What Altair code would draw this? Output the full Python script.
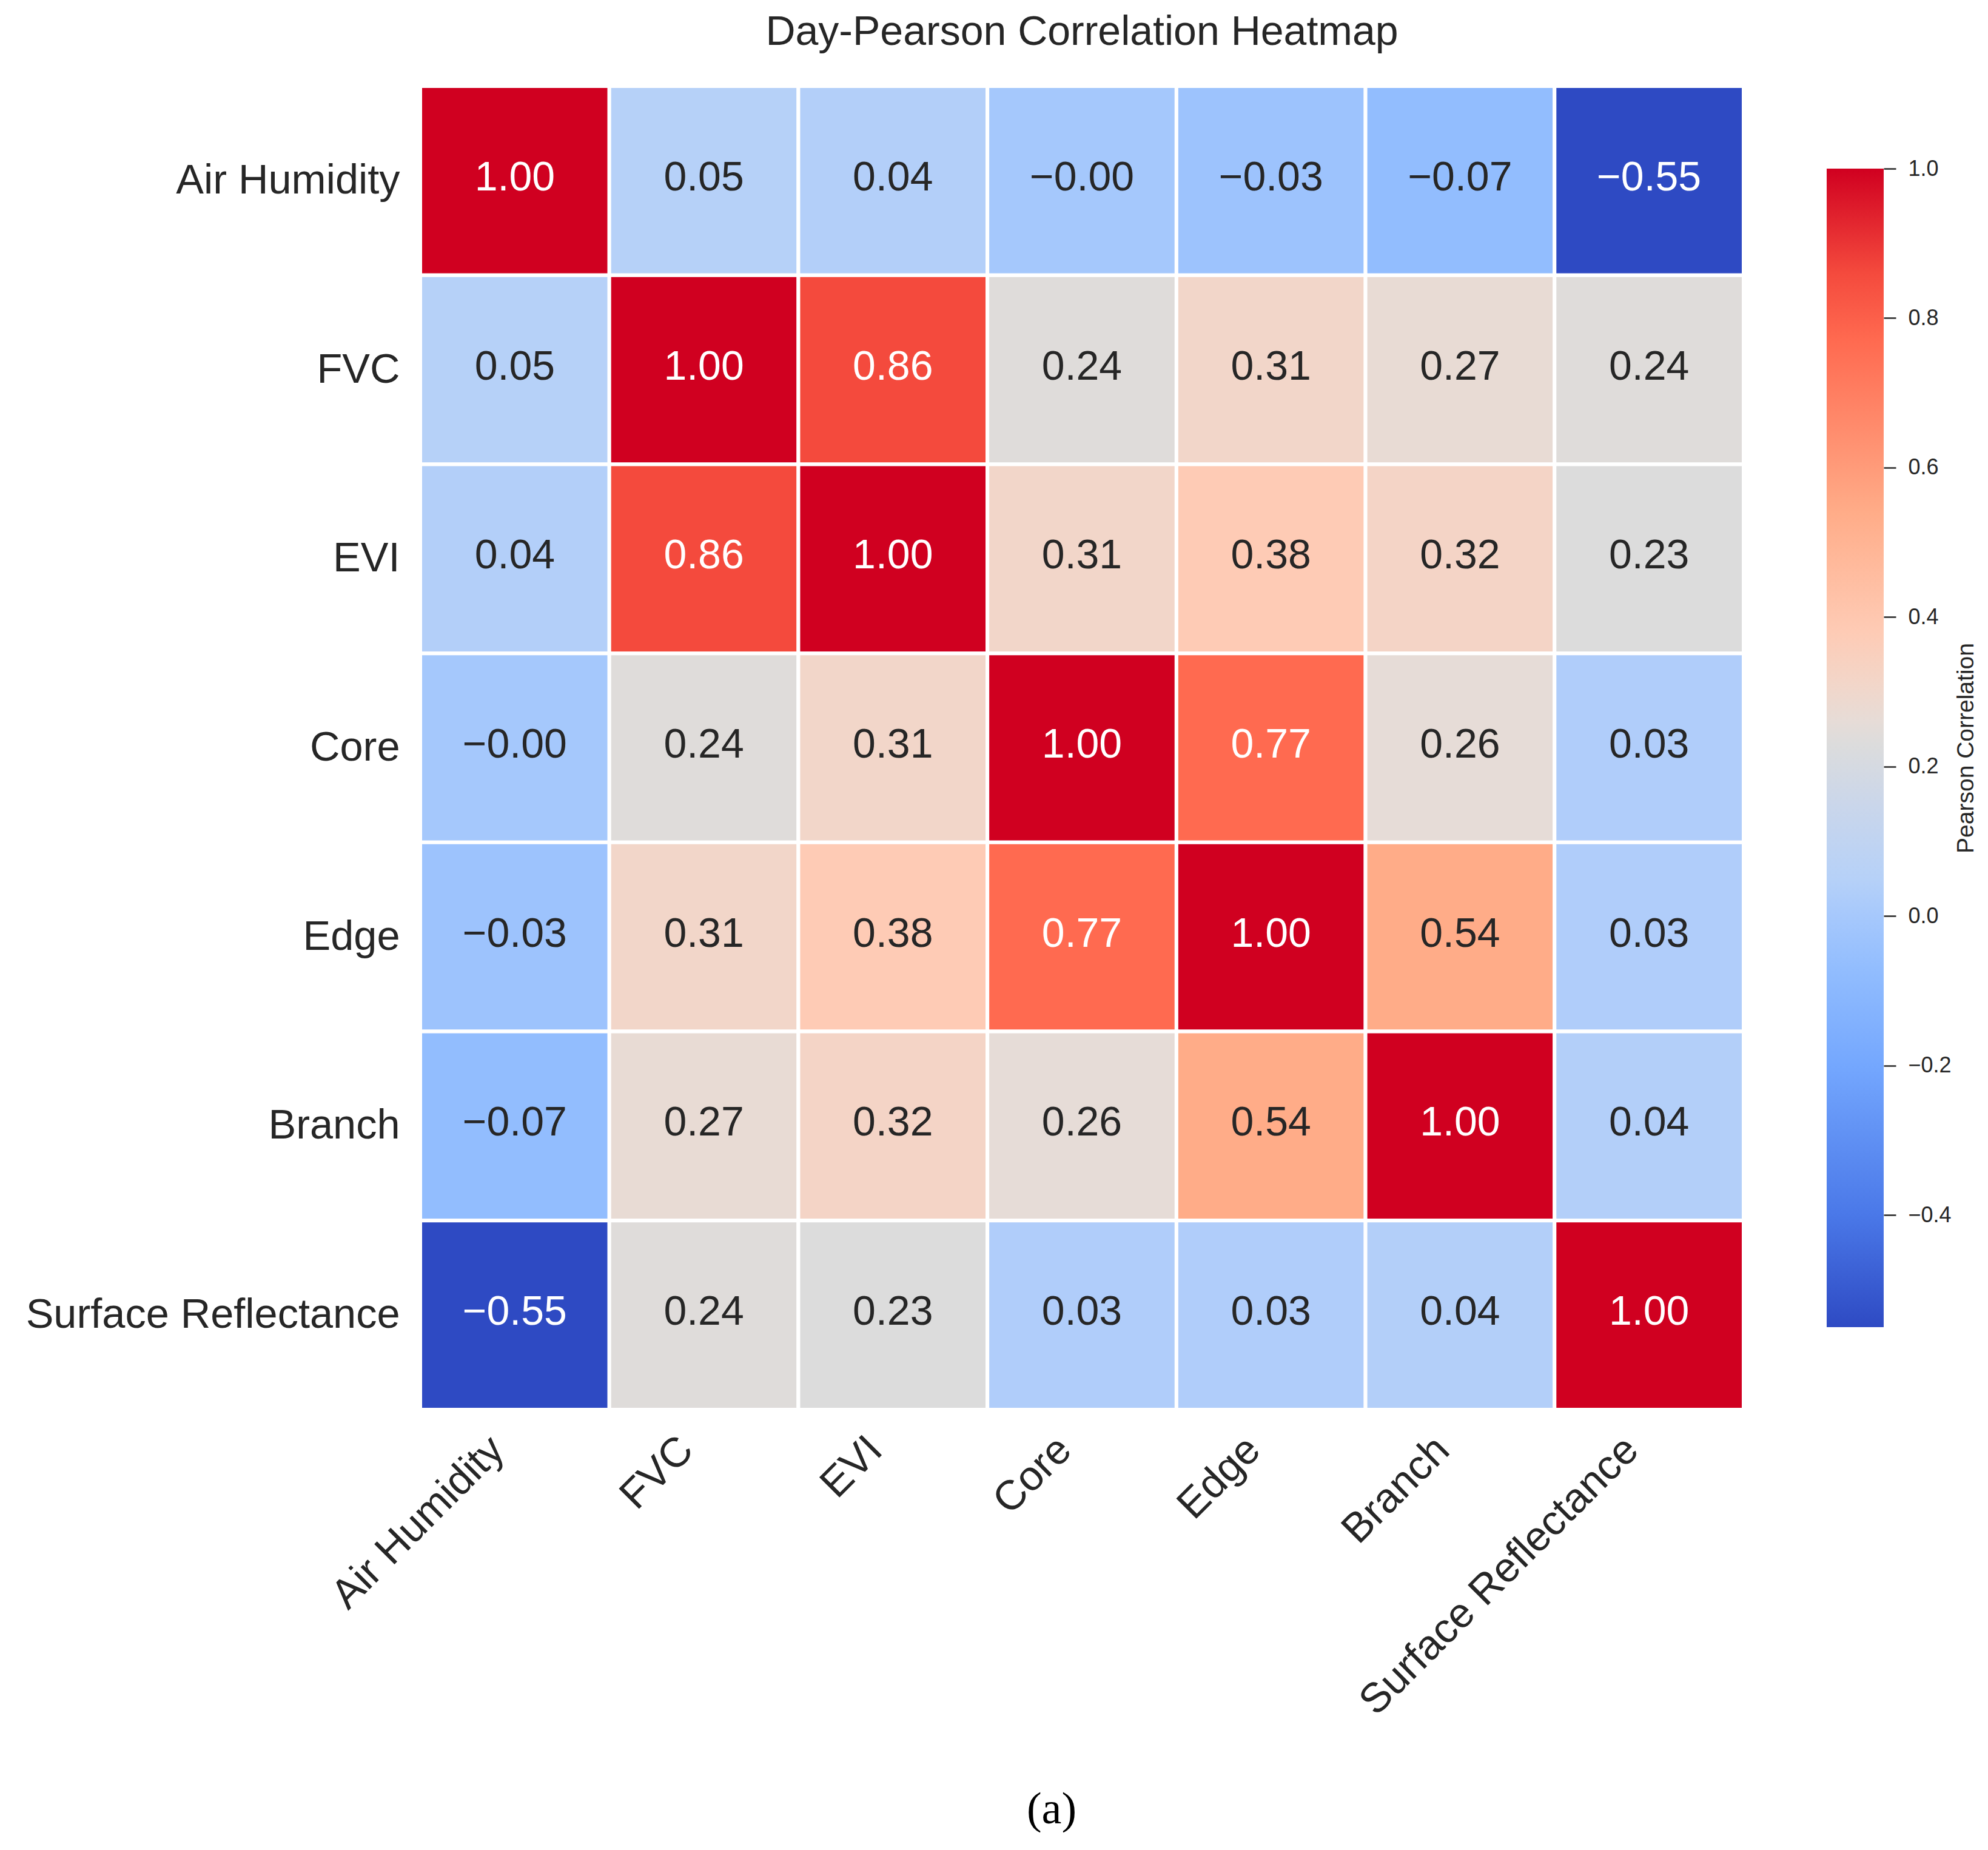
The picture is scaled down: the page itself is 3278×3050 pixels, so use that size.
import altair as alt
import pandas as pd

# ---------------- data ----------------
variables = ["Air Humidity", "FVC", "EVI", "Core", "Edge", "Branch", "Surface Reflectance"]

row_air_humidity = [1.00, 0.05, 0.04, -0.002, -0.03, -0.07, -0.55]
row_fvc = [0.05, 1.00, 0.86, 0.24, 0.31, 0.27, 0.24]
row_evi = [0.04, 0.86, 1.00, 0.31, 0.38, 0.32, 0.23]
row_core = [-0.002, 0.24, 0.31, 1.00, 0.77, 0.26, 0.03]
row_edge = [-0.03, 0.31, 0.38, 0.77, 1.00, 0.54, 0.03]
row_branch = [-0.07, 0.27, 0.32, 0.26, 0.54, 1.00, 0.04]
row_surface = [-0.55, 0.24, 0.23, 0.03, 0.03, 0.04, 1.00]

matrix_rows = [row_air_humidity, row_fvc, row_evi, row_core, row_edge, row_branch, row_surface]

# colour map stops (coolwarm as it appears in the picture)
stop_values = [-0.55, -0.4, -0.2, -0.07, 0.0, 0.05, 0.15, 0.23, 0.26, 0.31, 0.38, 0.54, 0.77, 0.86, 1.0]
stop_colors = ["#2e4ac3", "#4a78e8", "#74a7fe", "#92bdfe", "#a6c8fc", "#b6d1f8", "#cad6ea",
               "#dcdcdc", "#e6dcd7", "#f2d6c9", "#fecbb5", "#ffac88", "#ff6a50", "#f44a3d", "#d00020"]
vmin, vmax = -0.55, 1.0
cbar_ticks = [-0.4, -0.2, 0.0, 0.2, 0.4, 0.6, 0.8, 1.0]

title_text = "Day-Pearson Correlation Heatmap"
cbar_title = "Pearson Correlation"
caption_text = ["(a)"]

# ---------------- build tables ----------------
records = []
for rname, vals in zip(variables, matrix_rows):
    for cname, v in zip(variables, vals):
        records.append({
            "row": rname,
            "col": cname,
            "value": v,
            "label": f"{v:.2f}".replace("-", "\u2212"),
            "light": bool(v > 0.7 or v < -0.3),
        })
df = pd.DataFrame(records)
cbar_df = pd.DataFrame({"lo": [vmin], "hi": [vmax]})
caption_df = pd.DataFrame({"caption": caption_text})

FONT = "Liberation Sans"
TXT = "#262626"
W = 2182

color_scale = alt.Scale(domain=stop_values, range=stop_colors, interpolate="rgb")

x_axis = alt.Axis(orient="bottom", labelAngle=315, labelAlign="right",
                  labelBaseline="bottom", labelPadding=80, labelOffset=-4, ticks=False, tickSize=0,
                  domain=False, grid=False, labelFontSize=68.5, labelFont=FONT, labelColor=TXT,
                  labelLimit=2000)
y_axis = alt.Axis(orient="left", labelPadding=34, ticks=False, tickSize=0,
                  domain=False, grid=False, labelFontSize=68.5, labelFont=FONT, labelColor=TXT,
                  labelLimit=2000)

heat = alt.Chart(df).mark_rect(stroke="white", strokeWidth=6).encode(
    x=alt.X("col:N", sort=variables, title=None, axis=x_axis),
    y=alt.Y("row:N", sort=variables, title=None, axis=y_axis),
    color=alt.Color("value:Q", scale=color_scale, legend=None),
)

text = alt.Chart(df).mark_text(font=FONT, fontSize=68, baseline="middle", align="center", dy=-4).encode(
    x=alt.X("col:N", sort=variables, title=None, axis=x_axis),
    y=alt.Y("row:N", sort=variables, title=None, axis=y_axis),
    text="label:N",
    color=alt.condition("datum.light", alt.value("white"), alt.value(TXT)),
)

grad = alt.LinearGradient(
    gradient="linear",
    stops=[alt.GradientStop(offset=(v - vmin) / (vmax - vmin), color=c)
           for v, c in zip(stop_values, stop_colors)],
    x1=0, x2=0, y1=1, y2=0,
)

cbar = alt.Chart(cbar_df).mark_rect(fill=grad).encode(
    x=alt.value(2319),
    x2=alt.value(2413),
    y=alt.Y("lo:Q",
            scale=alt.Scale(domain=[vmin, vmax], range=[2046, 136], nice=False, zero=False),
            axis=alt.Axis(orient="right", offset=231, values=cbar_ticks, format=".1f",
                          domain=False, ticks=True, tickSize=20, tickWidth=2.5, tickColor=TXT,
                          labelPadding=20, labelFontSize=36, labelFont=FONT, labelColor=TXT,
                          grid=False,
                          title=cbar_title, titleAngle=270, titleFontSize=39, titleFont=FONT,
                          titleFontWeight="normal", titleColor=TXT, titlePadding=44)),
    y2="hi:Q",
)

caption = alt.Chart(caption_df).mark_text(font="Liberation Serif", fontSize=74,
                                          baseline="middle", align="center", color="black").encode(
    x=alt.value(1041),
    y=alt.value(2842),
    text="caption:N",
)

chart = alt.layer(
    alt.layer(heat, text),
    cbar,
    caption,
).resolve_scale(y="independent").resolve_axis(y="independent").properties(
    width=W,
    height=W,
    title=alt.TitleParams(text=title_text, fontSize=68, font=FONT, fontWeight="normal",
                          color=TXT, anchor="middle", frame="group", offset=-17,
                          baseline="bottom"),
    padding={"left": 34, "top": 12, "right": 0, "bottom": 0},
    background="white",
).configure_view(strokeWidth=0)

chart.save("out.html", embed_options={"renderer": "svg", "actions": False})
